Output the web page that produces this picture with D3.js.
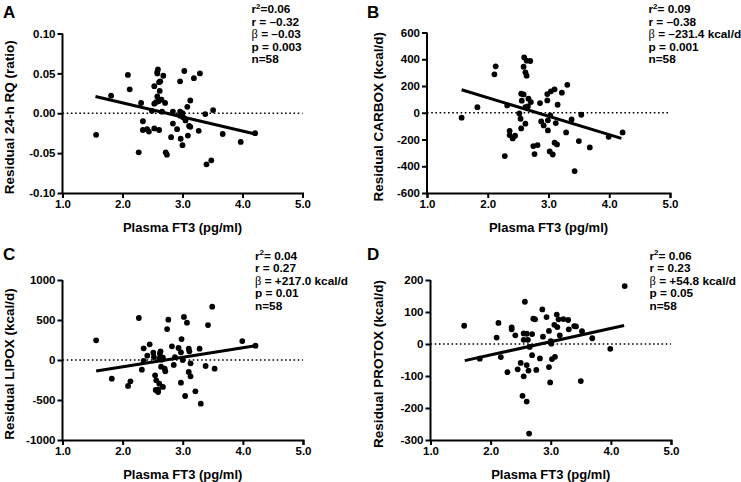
<!DOCTYPE html>
<html><head><meta charset="utf-8">
<script src="https://cdn.jsdelivr.net/npm/d3@7"></script>
<style>
body{margin:0;background:#fff;}
text{font-family:"Liberation Sans",Arial,Helvetica,sans-serif;font-weight:bold;fill:#000;}
</style></head>
<body><svg id="c" width="741" height="482"></svg>
<script>
// ---- data ----
const xTicks = [1, 2, 3, 4, 5];
const xTickLabels = ["1.0", "2.0", "3.0", "4.0", "5.0"];

const aX = [1.56,1.81,2.09,2.12,2.31,2.34,2.34,2.27,2.41,2.44,2.49,2.53,2.53,2.53,2.56,2.58,2.59,2.58,2.58,2.61,2.63,2.62,2.60,2.61,2.65,2.68,2.71,2.72,2.74,2.81,2.84,2.84,2.91,2.96,2.96,2.96,2.97,3.00,3.03,3.05,3.08,3.09,3.11,3.13,3.13,3.19,3.27,3.29,3.38,3.40,3.48,3.51,3.67,3.97,4.21,3.00,3.01,2.66];
const aY = [-0.027,0.022,0.048,0.030,0.013,-0.010,-0.021,-0.049,-0.020,-0.023,0.003,0.034,-0.019,0.012,0.014,0.052,0.055,0.050,0.021,0.039,0.040,0.028,0.015,-0.021,0.017,0.047,0.013,-0.049,-0.052,-0.030,0.002,-0.013,-0.020,0.040,0.002,-0.003,-0.032,-0.040,0.053,-0.009,0.008,-0.028,-0.016,0.016,-0.017,0.044,-0.022,0.050,-0.001,-0.064,-0.059,0.004,-0.026,-0.036,-0.025,0.000,-0.005,0.002];
const aFitX = [1.55, 4.21];
const aFitY = [0.021, -0.026];
const aTicks = [-0.10, -0.05, 0.00, 0.05, 0.10];
const aTickLabels = ["-0.10", "-0.05", "0.00", "0.05", "0.10"];

const bX = [1.57,1.83,2.11,2.13,2.32,2.36,2.36,2.41,2.45,2.28,2.52,2.54,2.55,2.56,2.55,2.59,2.62,2.59,2.60,2.62,2.64,2.64,2.70,2.62,2.66,2.67,2.71,2.75,2.82,2.77,2.86,2.88,2.92,2.98,2.98,2.99,2.99,3.02,3.07,3.04,3.10,3.10,3.14,3.12,3.15,3.22,3.29,3.31,3.38,3.43,3.50,3.54,3.68,3.99,4.22,3.03];
const bY = [-37,42,287,347,55,-135,-167,-192,-172,-324,-5,-45,-117,90,142,137,-82,344,414,302,277,389,387,42,47,105,80,-249,-242,-309,72,-65,-95,140,92,-57,-132,-289,-312,160,175,-224,-237,-77,60,150,-147,209,-50,-436,-212,-15,-259,-180,-147,-20];
const bFitX = [1.57, 4.20];
const bFitY = [172, -192];
const bTicks = [-600, -400, -200, 0, 200, 400, 600];
const bTickLabels = ["-600", "-400", "-200", "0", "200", "400", "600"];

const cX = [1.56,1.82,2.09,2.13,2.27,2.35,2.32,2.35,2.41,2.45,2.51,2.52,2.54,2.56,2.55,2.59,2.59,2.61,2.62,2.61,2.63,2.64,2.67,2.67,2.70,2.71,2.65,2.74,2.76,2.82,2.85,2.87,2.93,2.97,2.98,2.97,3.00,3.02,3.04,3.07,3.10,3.11,3.10,3.13,3.13,3.21,3.28,3.30,3.38,3.42,3.49,3.53,3.99,4.21];
const cY = [246,-233,-325,-267,525,146,-121,-12,54,196,92,37,-192,-254,-375,-371,-400,-296,79,17,108,-83,-337,29,-108,-142,4,387,504,171,-62,37,150,96,262,-283,0,538,-450,467,142,108,-150,-204,-42,-392,142,-546,-75,437,667,-108,237,179];
const cFitX = [1.56, 4.21];
const cFitY = [-137, 179];
const cTicks = [-1000, -500, 0, 500, 1000];
const cTickLabels = ["-1000", "-500", "0", "500", "1000"];

const dX = [1.56,1.82,2.10,2.13,2.17,2.28,2.35,2.35,2.41,2.45,2.50,2.55,2.55,2.55,2.53,2.57,2.60,2.62,2.60,2.63,2.60,2.64,2.65,2.69,2.69,2.71,2.74,2.76,2.82,2.86,2.87,2.93,2.97,2.97,2.99,3.00,3.01,3.02,3.06,3.07,3.10,3.11,3.13,3.15,3.21,3.29,3.30,3.39,3.42,3.50,3.52,3.69,3.99,4.23];
const dY = [57,-46,20,66,-41,-88,52,46,27,-79,-59,33,13,-101,-162,132,32,13,-66,-83,-180,-280,-9,31,-35,79,77,-81,-45,108,23,84,41,-72,-120,9,1,-47,60,-40,92,53,77,27,78,75,46,56,55,-116,40,18,-15,181];
const dFitX = [1.57, 4.22];
const dFitY = [-52, 58];
const dTicks = [-300, -200, -100, 0, 100, 200];
const dTickLabels = ["-300", "-200", "-100", "0", "100", "200"];

const annA = ["r|2|=0.06", "r = –0.32", "β = –0.03", "p = 0.003", "n=58"];
const annB = ["r|2|= 0.09", "r = –0.38", "β = –231.4 kcal/d", "p = 0.001", "n=58"];
const annC = ["r|2|= 0.04", "r = 0.27", "β = +217.0 kcal/d", "p = 0.01", "n=58"];
const annD = ["r|2|= 0.06", "r = 0.23", "β = +54.8 kcal/d", "p = 0.05", "n=58"];

// ---- drawing ----
const svg = d3.select("#c");

function panel(cfg){
  const g = svg.append("g");
  const x = d3.scaleLinear().domain([1,5]).range([cfg.l, cfg.r]);
  const y = d3.scaleLinear().domain(cfg.yDom).range([cfg.b, cfg.t]);

  const xa = g.append("g").attr("transform",`translate(0,${cfg.b})`)
    .call(d3.axisBottom(x).tickValues(xTicks).tickFormat((d,i)=>xTickLabels[i]).tickSizeOuter(0).tickSize(5).tickPadding(2));
  const ya = g.append("g").attr("transform",`translate(${cfg.l},0)`)
    .call(d3.axisLeft(y).tickValues(cfg.yTicks).tickFormat((d,i)=>cfg.yLabels[i]).tickSizeOuter(0).tickSize(5).tickPadding(2));
  [xa, ya].forEach(a=>{
    a.select(".domain").attr("stroke","#000").attr("stroke-width",2);
    a.selectAll(".tick line").attr("stroke","#000").attr("stroke-width",2);
    a.selectAll(".tick text").style("font-size","11.5px").style("font-weight","bold")
      .style("font-family",'"Liberation Sans",Arial,sans-serif').attr("fill","#000");
  });
  ya.select(".domain").attr("d", `M0,${cfg.b+1}V${cfg.t}`);

  g.append("line").attr("x1",x(1)).attr("x2",x(5)).attr("y1",y(0)).attr("y2",y(0))
    .attr("stroke","#000").attr("stroke-width",1.6).attr("stroke-dasharray","1.6,2.6");

  g.selectAll("circle").data(cfg.xs.map((v,i)=>[v,cfg.ys[i]])).join("circle")
    .attr("cx",d=>x(d[0])).attr("cy",d=>y(d[1])).attr("r",2.9).attr("fill","#000");

  g.append("line").attr("x1",x(cfg.fx[0])).attr("x2",x(cfg.fx[1]))
    .attr("y1",y(cfg.fy[0])).attr("y2",y(cfg.fy[1]))
    .attr("stroke","#000").attr("stroke-width",3);

  g.append("text").attr("x",(cfg.l+cfg.r)/2).attr("y",cfg.b+39).attr("text-anchor","middle")
    .style("font-size","13px").text("Plasma FT3 (pg/ml)");
  g.append("text").attr("transform",`translate(${cfg.ytx},${(cfg.t+cfg.b)/2+4}) rotate(-90)`)
    .attr("text-anchor","middle").attr("dy","0.35em").style("font-size","13.5px").text(cfg.yTitle);

  g.append("text").attr("x",cfg.lx).attr("y",cfg.ly).style("font-size","17px").text(cfg.letter);

  cfg.ann.forEach((s,i)=>{
    const t = g.append("text").attr("x",cfg.ax).attr("y",cfg.ay + i*12.5).style("font-size","11.8px");
    if (s.includes("|")) {
      const p = s.split("|");
      t.append("tspan").text(p[0]);
      t.append("tspan").attr("dy",-4.5).style("font-size","8px").text(p[1]);
      t.append("tspan").attr("dy",4.5).text(p[2]);
    } else if (s.startsWith("β")) {
      t.append("tspan").style("font-family",'"Liberation Serif","DejaVu Serif",serif').style("font-weight","normal").style("font-size","12.5px").text("β");
      t.append("tspan").text(s.slice(1));
    } else t.text(s);
  });
}

panel({l:62.5,r:302.5,t:33.5,b:193,yDom:[-0.1,0.1],yTicks:aTicks,yLabels:aTickLabels,
  xs:aX,ys:aY,fx:aFitX,fy:aFitY,yTitle:"Residual 24-h RQ (ratio)",ytx:9.5,letter:"A",lx:3,ly:18,ann:annA,ax:251.5,ay:13.3});
panel({l:427,r:670,t:32.5,b:193,yDom:[-600,600],yTicks:bTicks,yLabels:bTickLabels,
  xs:bX,ys:bY,fx:bFitX,fy:bFitY,yTitle:"Residual CARBOX (kcal/d)",ytx:378,letter:"B",lx:367,ly:18,ann:annB,ax:648.5,ay:13.3});
panel({l:62.5,r:303,t:280,b:440,yDom:[-1000,1000],yTicks:cTicks,yLabels:cTickLabels,
  xs:cX,ys:cY,fx:cFitX,fy:cFitY,yTitle:"Residual LIPOX (kcal/d)",ytx:9.5,letter:"C",lx:3,ly:260,ann:annC,ax:255,ay:259.7});
panel({l:430.5,r:671,t:280,b:440,yDom:[-300,200],yTicks:dTicks,yLabels:dTickLabels,
  xs:dX,ys:dY,fx:dFitX,fy:dFitY,yTitle:"Residual PROTOX (kcal/d)",ytx:378,letter:"D",lx:367,ly:260,ann:annD,ax:649.5,ay:259.7});
</script></body></html>
